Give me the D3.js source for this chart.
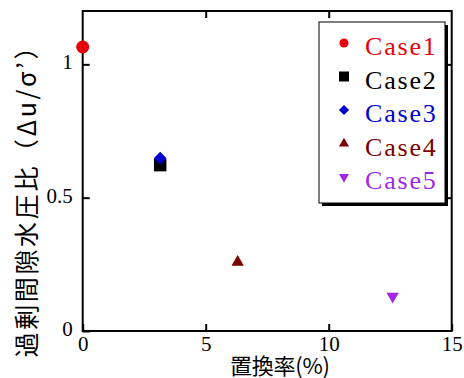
<!DOCTYPE html>
<html>
<head>
<meta charset="utf-8">
<script src="https://cdn.jsdelivr.net/npm/d3@7"></script>
<style>
  body { margin: 0; background: #fff; }
  svg { display: block; }
</style>
</head>
<body>
<div id="chart"></div>
<script>
// data
var cases = ["Case1", "Case2", "Case3", "Case4", "Case5"]
var replacementRate = [0, 3.15, 3.15, 6.3, 12.6]      // 置換率 (%)
var pressureRatio = [1.065, 0.622, 0.648, 0.258, 0.13] // Δu/σ'
var xTicks = [0, 5, 10, 15]
var yTicks = [0, 0.5, 1]
var caseColors = ["#e6000a", "#000000", "#0000d0", "#7a0000", "#a028e6"]

var serif = "'Liberation Serif', 'Times New Roman', serif"
var width = 464, height = 378
var margin = {left: 82.7, right: 12.3, top: 11, bottom: 47}

var svg = d3.select("#chart").append("svg")
    .attr("width", width)
    .attr("height", height)

var x = d3.scaleLinear().domain([0, 15]).range([margin.left, width - margin.right])
var y = d3.scaleLinear().domain([0, 1.2]).range([height - margin.bottom, margin.top])
var color = d3.scaleOrdinal(cases, caseColors)

var shapes = {
    Case1: {type: d3.symbolCircle, rot: 0, size: 133, lsize: 66},
    Case2: {type: d3.symbolSquare, rot: 0, size: 156, lsize: 100},
    Case3: {type: d3.symbolSquare, rot: 45, size: 81, lsize: 52},
    Case4: {type: d3.symbolTriangle, rot: 0, size: 66, lsize: 44},
    Case5: {type: d3.symbolTriangle, rot: 180, size: 66, lsize: 44}
}

/* axes, ticks pointing inwards on all four sides */
var x0 = y.range()[0], y0 = x.range()[0]
svg.append("g")
    .attr("transform", `translate(0, ${x0})`)
    .call(d3.axisBottom(x).tickValues(xTicks).tickSize(-7).tickPadding(5).tickFormat(d3.format("d")))
svg.append("g")
    .attr("transform", `translate(0, ${margin.top})`)
    .call(d3.axisTop(x).tickValues([5, 10]).tickSize(-7).tickFormat(""))
svg.append("g")
    .attr("transform", `translate(${y0}, 0)`)
    .call(d3.axisLeft(y).tickValues(yTicks).tickSize(-7).tickPadding(10).tickFormat(d => d))
    .selectAll("text").attr("dy", "0.22em")
svg.append("g")
    .attr("transform", `translate(${x.range()[1]}, 0)`)
    .call(d3.axisRight(y).tickValues([0.5, 1]).tickSize(-7).tickFormat(""))

svg.selectAll(".domain").remove()
svg.selectAll(".tick line").attr("stroke", "#000").attr("stroke-width", 2)
svg.selectAll(".tick text")
    .attr("font-family", serif)
    .attr("font-size", 21)
    .attr("fill", "#000")

svg.append("rect")
    .attr("x", x(0)).attr("y", y(1.2))
    .attr("width", x(15) - x(0)).attr("height", y(0) - y(1.2))
    .attr("fill", "none").attr("stroke", "#000").attr("stroke-width", 2)

/* axis titles */
svg.append("text")
    .attr("transform", "translate(25, 196) rotate(-90)")
    .attr("text-anchor", "middle")
    .attr("dominant-baseline", "central")
    .attr("textLength", 323)
    .attr("lengthAdjust", "spacing")
    .attr("font-family", "'Noto Sans CJK JP', sans-serif")
    .attr("font-size", 25)
    .text("過剰間隙水圧比（Δu/σ’）")

svg.append("text")
    .attr("x", 280).attr("y", 374)
    .attr("text-anchor", "middle")
    .attr("textLength", 100)
    .attr("lengthAdjust", "spacing")
    .attr("font-family", "'Noto Sans CJK JP', sans-serif")
    .attr("font-size", 22)
    .text("置換率(%)")

/* points */
var data = cases.map((c, i) => ({name: c, rate: replacementRate[i], ratio: pressureRatio[i]}))

var sym = (d, big) => d3.symbol().type(shapes[d.name].type).size(big ? shapes[d.name].size : shapes[d.name].lsize)()

svg.append("g").attr("class", "points")
    .selectAll("path")
    .data(data).enter()
    .append("path")
    .attr("transform", d => `translate(${x(d.rate)}, ${y(d.ratio)}) rotate(${shapes[d.name].rot})`)
    .attr("d", d => sym(d, true))
    .attr("fill", d => color(d.name))

/* legend */
var legend = svg.append("g").attr("class", "legend")
var lx = 319, ly = 22, lw = 126, lh = 181
legend.append("rect")
    .attr("x", lx + 3).attr("y", ly + 3).attr("width", lw).attr("height", lh)
    .attr("fill", "#000")
legend.append("rect")
    .attr("x", lx).attr("y", ly).attr("width", lw).attr("height", lh)
    .attr("fill", "#fff").attr("stroke", "#000").attr("stroke-width", 1)

var row = d3.scalePoint().domain(cases).range([ly + 24, ly + 158])

var items = legend.selectAll(".item")
    .data(data).enter()
    .append("g")
    .attr("class", "item")
    .attr("transform", d => `translate(${lx + 25}, ${row(d.name)})`)

items.append("path")
    .attr("transform", d => `translate(0, -3) rotate(${shapes[d.name].rot})`)
    .attr("d", d => sym(d, false))
    .attr("fill", d => color(d.name))

items.append("text")
    .attr("x", 21)
    .attr("y", 9)
    .attr("font-family", serif)
    .attr("font-size", 26)
    .attr("letter-spacing", 1.8)
    .attr("fill", d => color(d.name))
    .text(d => d.name)
</script>
</body>
</html>
